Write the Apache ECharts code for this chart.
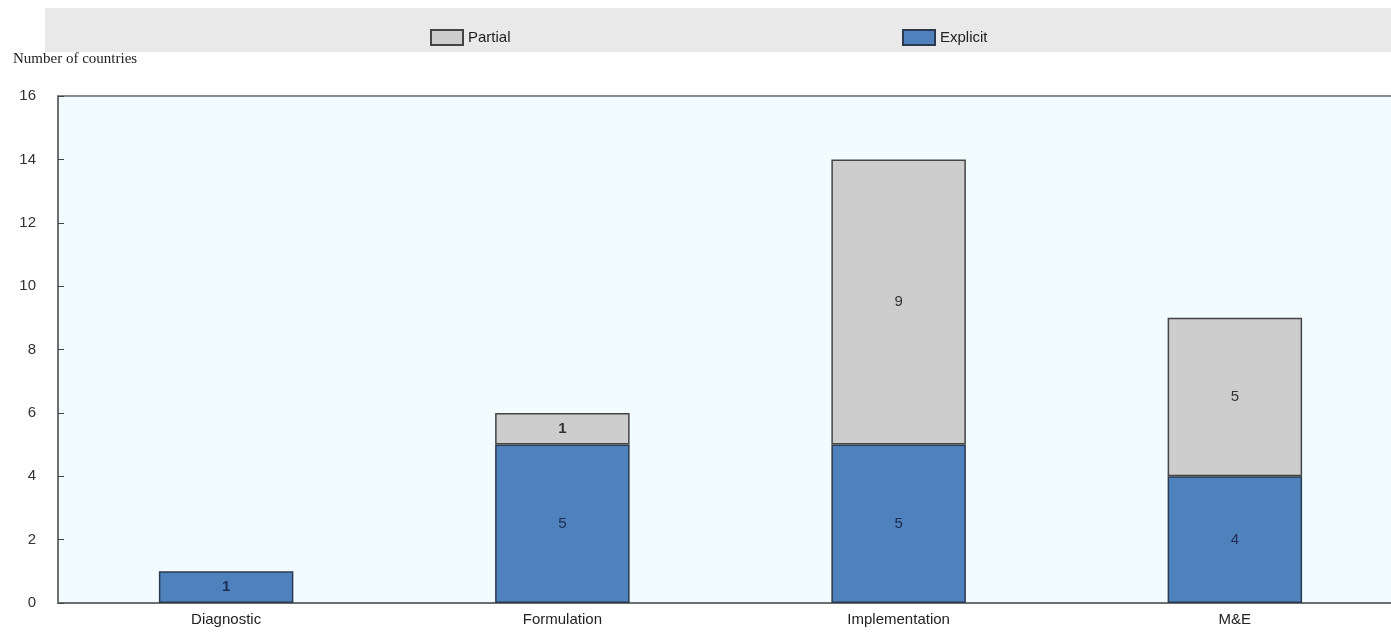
<!DOCTYPE html>
<html>
<head>
<meta charset="utf-8">
<script src="https://cdn.jsdelivr.net/npm/echarts@6/dist/echarts.min.js"></script>
<style>html,body{margin:0;padding:0;background:#fff}#c{width:1391px;height:635px}</style>
</head>
<body>
<div id="c"></div>
<script>
const categories = ['Diagnostic', 'Formulation', 'Implementation', 'M&E'];
const explicitValues = [1, 5, 5, 4];
const partialValues = [0, 1, 9, 5];
const yTicks = [0, 2, 4, 6, 8, 10, 12, 14, 16];

const chart = echarts.init(document.getElementById('c'), null, {renderer: 'canvas'});

function mkData(vals, color) {
  return vals.map(v => ({
    value: v === 0 ? null : v,
    label: {fontWeight: v === 1 ? 'bold' : 'normal', color: color}
  }));
}

const option = {
  animation: false,
  textStyle: {fontFamily: 'Liberation Sans, Arial, sans-serif'},
  graphic: [
    {type: 'rect', left: 45, top: 8, shape: {width: 1346, height: 44}, style: {fill: '#e9e9e9'}, z: -10}
  ],
  title: {
    text: 'Number of countries', left: 8, top: 47,
    textStyle: {fontFamily: 'Liberation Serif, Times New Roman, serif', fontSize: 15, fontWeight: 'normal', color: '#222'}
  },
  legend: [
    {data: ['Partial'], icon: 'rect', left: 425, top: 24, itemWidth: 32, itemHeight: 15, itemGap: 10,
     textStyle: {fontSize: 15, color: '#222'}},
    {data: ['Explicit'], icon: 'rect', left: 897, top: 24, itemWidth: 32, itemHeight: 15, itemGap: 10,
     textStyle: {fontSize: 15, color: '#222'}}
  ],
  grid: {
    left: 58, width: 1345, top: 96, bottom: 32, show: true,
    outerBoundsMode: 'none', containLabel: false,
    backgroundColor: '#f2fcfe', borderColor: '#666', borderWidth: 1.5
  },
  xAxis: {
    type: 'category', data: categories,
    axisLine: {lineStyle: {color: '#666', width: 1.5}},
    axisTick: {inside: true, length: 6, lineStyle: {color: '#444'}},
    axisLabel: {fontSize: 15, color: '#222', margin: 9}
  },
  yAxis: {
    type: 'value', min: 0, max: 16, interval: 2,
    axisLine: {show: true, lineStyle: {color: '#666', width: 1.5}},
    axisTick: {show: true, inside: true, length: 6, lineStyle: {color: '#444'}},
    axisLabel: {fontSize: 15, color: '#333', margin: 22,
      formatter: v => yTicks.indexOf(v) >= 0 ? String(v) : ''},
    splitLine: {show: false}
  },
  series: [
    {
      name: 'Explicit', type: 'bar', stack: 'a', barWidth: '40%',
      data: mkData(explicitValues, '#1c2c55'),
      itemStyle: {color: '#4f81bd', borderColor: '#2b3a4f', borderWidth: 1.5},
      label: {show: true, position: 'inside', fontSize: 15}
    },
    {
      name: 'Partial', type: 'bar', stack: 'a', barWidth: '40%',
      data: mkData(partialValues, '#333'),
      itemStyle: {color: '#cdcdcd', borderColor: '#444', borderWidth: 1.5},
      label: {show: true, position: 'inside', fontSize: 15}
    }
  ]
};
chart.setOption(option);
</script>
</body>
</html>
